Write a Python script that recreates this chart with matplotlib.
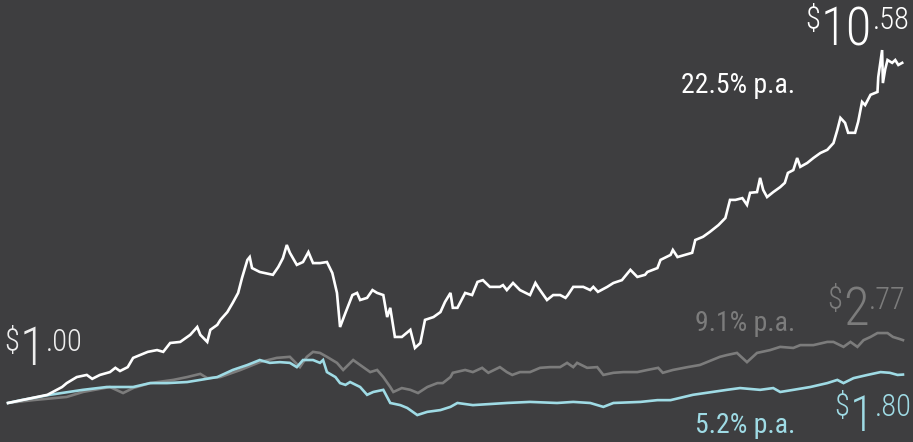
import matplotlib
matplotlib.use("Agg")
import matplotlib.pyplot as plt
from matplotlib import font_manager
from matplotlib.transforms import IdentityTransform

# growth of $1, time in years since start
white_t = [0, 0.51, 0.70, 0.76, 0.89, 1.02, 1.09, 1.19, 1.32, 1.39, 1.45, 1.55, 1.62, 1.71,
           1.81, 1.93, 2.01, 2.10, 2.23, 2.36, 2.45, 2.49, 2.58, 2.62, 2.71, 2.75, 2.84, 2.91,
           2.98, 3.03, 3.10, 3.13, 3.16, 3.26, 3.43, 3.50, 3.56, 3.61, 3.65, 3.74, 3.82, 3.89,
           3.95, 4.04, 4.13, 4.20, 4.26, 4.30, 4.37, 4.46, 4.52, 4.56, 4.65, 4.72, 4.78, 4.86,
           4.91, 4.95, 5.01, 5.10, 5.21, 5.27, 5.34, 5.40, 5.51, 5.60, 5.66, 5.73, 5.76, 5.82,
           5.92, 6.01, 6.08, 6.15, 6.24, 6.37, 6.41, 6.46, 6.54, 6.63, 6.76, 6.83, 6.87, 6.98,
           7.06, 7.15, 7.22, 7.25, 7.32, 7.45, 7.54, 7.58, 7.64, 7.76, 7.84, 7.95, 8.06, 8.15,
           8.25, 8.28, 8.41, 8.45, 8.58, 8.61, 8.67, 8.86, 8.90, 9.00, 9.09, 9.20, 9.29, 9.35,
           9.42, 9.51, 9.57, 9.61, 9.70, 9.74, 9.78, 9.83, 9.91, 10.00, 10.06, 10.10, 10.17,
           10.22, 10.26, 10.35, 10.43, 10.52, 10.61, 10.69, 10.74, 10.78, 10.84, 10.88, 10.97,
           11.01, 11.06, 11.10, 11.17, 11.26, 11.27, 11.32, 11.33, 11.36, 11.39, 11.45, 11.49,
           11.53, 11.58]
white_v = [1.00, 1.23, 1.45, 1.56, 1.73, 1.79, 1.68, 1.79, 1.87, 1.99, 1.90, 2.01, 2.27, 2.35,
           2.44, 2.49, 2.44, 2.69, 2.72, 2.92, 3.14, 2.92, 2.72, 3.06, 3.20, 3.34, 3.56, 3.82,
           4.10, 4.52, 5.03, 5.11, 4.80, 4.69, 4.61, 4.83, 5.08, 5.45, 5.23, 4.89, 4.97, 5.25,
           4.94, 4.94, 4.97, 4.66, 4.10, 3.14, 3.54, 4.04, 4.10, 3.90, 3.96, 4.18, 4.10, 4.04,
           3.42, 3.68, 2.86, 2.86, 3.06, 2.55, 2.69, 3.34, 3.42, 3.56, 3.85, 4.10, 3.68, 3.68,
           4.10, 4.04, 4.41, 4.46, 4.27, 4.27, 4.32, 4.18, 4.38, 4.18, 4.04, 4.38, 4.24, 3.90,
           4.04, 4.04, 3.96, 4.04, 4.27, 4.27, 4.18, 4.27, 4.13, 4.27, 4.38, 4.46, 4.75, 4.55,
           4.61, 4.69, 4.80, 5.03, 5.17, 5.31, 5.11, 5.23, 5.59, 5.68, 5.82, 6.01, 6.21, 6.72,
           6.72, 6.77, 6.58, 6.92, 6.94, 7.34, 7.00, 6.80, 6.94, 7.08, 7.20, 7.48, 7.56,
           7.90, 7.65, 7.76, 7.90, 8.04, 8.13, 8.32, 8.69, 9.03, 8.89, 8.61, 8.61,
           8.92, 9.48, 9.39, 9.68, 9.76, 10.18, 10.94, 10.01, 10.40, 10.66, 10.58, 10.66,
           10.52, 10.58]

grey_t = [0, 0.32, 0.76, 0.97, 1.32, 1.49, 1.62, 1.84, 2.14, 2.32, 2.49, 2.58, 2.75, 3.01,
          3.26, 3.48, 3.65, 3.78, 3.87, 3.95, 4.04, 4.13, 4.26, 4.34, 4.47, 4.56, 4.69, 4.78,
          4.86, 4.95, 4.99, 5.10, 5.21, 5.31, 5.43, 5.56, 5.63, 5.73, 5.76, 5.92, 6.02, 6.14,
          6.22, 6.37, 6.46, 6.53, 6.63, 6.76, 6.89, 7.02, 7.15, 7.24, 7.32, 7.37, 7.50, 7.63,
          7.71, 7.84, 7.97, 8.15, 8.28, 8.42, 8.48, 8.61, 8.80, 8.96, 9.22, 9.31, 9.44, 9.57,
          9.70, 9.87, 10.00, 10.17, 10.26, 10.43, 10.61, 10.69, 10.82, 10.91, 11.00, 11.08,
          11.17, 11.26, 11.39, 11.46, 11.55, 11.59]
grey_v = [1.00, 1.08, 1.17, 1.31, 1.45, 1.28, 1.42, 1.56, 1.65, 1.73, 1.82, 1.70, 1.73, 1.93,
          2.15, 2.27, 2.30, 2.01, 2.30, 2.44, 2.41, 2.30, 2.13, 1.93, 2.21, 2.07, 1.87, 1.93,
          1.73, 1.45, 1.31, 1.42, 1.37, 1.28, 1.45, 1.56, 1.56, 1.73, 1.85, 1.93, 1.87, 1.99,
          1.85, 2.01, 1.87, 1.79, 1.87, 1.87, 1.99, 2.01, 2.01, 2.13, 2.01, 2.13, 1.99, 2.01,
          1.79, 1.85, 1.87, 1.87, 1.93, 1.99, 1.85, 1.93, 2.01, 2.07, 2.30, 2.35, 2.41, 2.15,
          2.41, 2.49, 2.58, 2.55, 2.63, 2.63, 2.72, 2.72, 2.58, 2.72, 2.58, 2.77,
          2.86, 2.97, 2.97, 2.86, 2.80, 2.77]

cyan_t = [0, 0.17, 0.54, 0.97, 1.28, 1.62, 1.84, 2.06, 2.32, 2.49, 2.71, 2.91, 3.10, 3.26,
          3.39, 3.52, 3.65, 3.74, 3.82, 3.95, 4.04, 4.08, 4.13, 4.24, 4.30, 4.37, 4.43, 4.56,
          4.65, 4.73, 4.86, 4.95, 5.08, 5.17, 5.30, 5.43, 5.60, 5.73, 5.82, 6.02, 6.24, 6.46,
          6.76, 7.11, 7.32, 7.54, 7.71, 7.84, 8.19, 8.41, 8.58, 8.87, 9.31, 9.48, 9.74, 9.91,
          10.00, 10.17, 10.39, 10.61, 10.74, 10.82, 10.95, 11.13, 11.30, 11.42, 11.52, 11.59]
cyan_v = [1.00, 1.08, 1.23, 1.37, 1.45, 1.45, 1.56, 1.56, 1.59, 1.65, 1.73, 1.93, 2.07, 2.21,
          2.13, 2.15, 2.13, 2.01, 2.21, 2.21, 2.13, 2.21, 1.87, 1.73, 1.56, 1.51, 1.59, 1.45,
          1.23, 1.31, 1.37, 1.00, 0.94, 0.86, 0.66, 0.75, 0.80, 0.89, 1.00, 0.94, 0.97, 1.00,
          1.03, 1.00, 1.03, 1.00, 0.89, 1.00, 1.03, 1.08, 1.08, 1.23, 1.37, 1.42, 1.37, 1.42,
          1.31, 1.37, 1.45, 1.56, 1.65, 1.56, 1.70, 1.79, 1.87, 1.85, 1.79, 1.80]

BG = "#3e3e40"
WHITE = "#ffffff"
GREY = "#7c7c7c"
CYAN = "#9fdbe5"

names = {f.name for f in font_manager.fontManager.ttflist}
FONT = next((n for n in ["Roboto Condensed", "Liberation Sans Narrow", "Open Sans Condensed"]
             if n in names), "DejaVu Sans")

W, H = 913, 442
fig = plt.figure(figsize=(W / 100, H / 100), dpi=100, facecolor=BG)
ax = fig.add_axes([0, 0, 1, 1])
ax.set_facecolor(BG)
ax.plot(grey_t, grey_v, color=GREY, lw=1.9, solid_joinstyle="miter")
ax.plot(cyan_t, cyan_v, color=CYAN, lw=1.9, solid_joinstyle="miter")
ax.plot(white_t, white_v, color=WHITE, lw=1.9, solid_joinstyle="miter")
ax.set_xlim(-0.104, 11.72)
ax.set_ylim(-0.099, 12.35)
ax.axis("off")

renderer = fig.canvas.get_renderer()


def put(x, y, s, size, color, ha="left", weight="light"):
    # x, y in image pixels, y measured from the top (baseline)
    return fig.text(x, H - y, s, transform=IdentityTransform(), fontsize=size, color=color,
                    family=FONT, fontweight=weight, ha=ha, va="baseline")


def money(x, base_big, base_small, whole, cents, color, big=38, small=22):
    t = put(x, base_small, "$", small, color)
    x = t.get_window_extent(renderer).x1 + 1
    t = put(x, base_big, whole, big, color)
    x = t.get_window_extent(renderer).x1 + 0.5
    put(x, base_small, "." + cents, small, color)


money(4, 365, 351, "1", "00", "#eeeeee")
money(805, 45, 29, "10", "58", WHITE)
money(827, 325, 309, "2", "77", GREY)
money(834, 431, 416, "1", "80", CYAN, big=36)

put(795, 93, "22.5% p.a.", 20, WHITE, ha="right", weight="normal")
put(795, 331, "9.1% p.a.", 20, GREY, ha="right", weight="normal")
put(795, 433, "5.2% p.a.", 20, CYAN, ha="right", weight="normal")

fig.savefig("out.png", dpi=100, facecolor=BG)
